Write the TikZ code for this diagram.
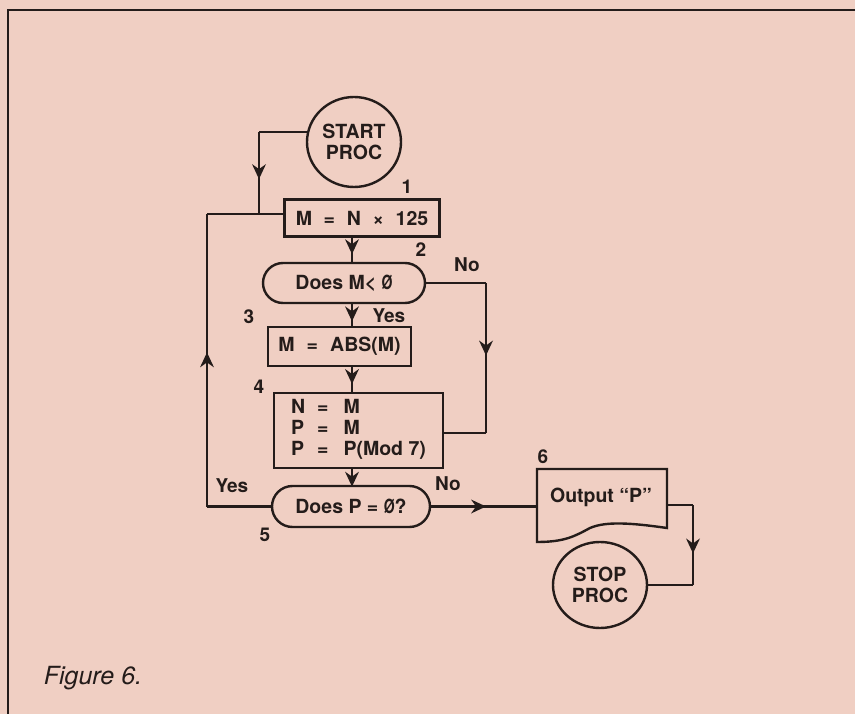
\documentclass[tikz,border=0pt]{standalone}
\usepackage{fontspec}
\usepackage{graphicx}
\setmainfont{TeX Gyre Heros}
\usetikzlibrary{arrows.meta,shapes.misc,shapes.geometric,decorations.markings,calc}
\definecolor{paper}{RGB}{240,207,195}
\definecolor{ink}{RGB}{36,28,26}
\newcommand{\slz}{\scalebox{0.72}[1]{Ø}}
\tikzset{
  txt/.style={font=\fontsize{19.5}{21}\selectfont\bfseries, text=ink},
  lbl/.style={font=\fontsize{19}{21}\selectfont\bfseries, text=ink, inner sep=0pt},
  boxnode/.style={txt, draw=ink, line width=2.4pt, rectangle, inner sep=0pt, align=center},
  decnode/.style={txt, draw=ink, line width=2.4pt, rounded rectangle, inner sep=0pt},
  termnode/.style={txt, draw=ink, line width=2.4pt, ellipse, inner sep=0pt, align=center},
  conn/.style={draw=ink, line width=2.2pt, line join=miter},
  marr/.style={decoration={markings, mark=at position #1 with {\fill[ink] (2pt,0pt) -- (-13pt,7pt) -- (-8pt,0pt) -- (-13pt,-7pt) -- cycle;}}, postaction={decorate}},
}
\begin{document}
\begin{tikzpicture}[x=1pt,y=-1pt]
\useasboundingbox (0,0) rectangle (855,714);
\fill[paper] (0,0) rectangle (855,714);
\draw[ink, line width=1.6pt] (8,714) -- (8,10) -- (855,10);

% nodes
\node[termnode, minimum width=94pt, minimum height=90pt] (start) at (354,142) {START\\PROC};
\node[boxnode, minimum width=155pt, minimum height=37pt] (b1) at (362,218)
  {M\hspace{0.6em}=\hspace{0.6em}N\hspace{0.6em}×\hspace{0.6em}125};
\node[decnode, minimum width=162pt, minimum height=40pt] (d1) at (344,283) {Does M< \slz};
\node[boxnode, minimum width=143pt, minimum height=39pt] (b3) at (339.5,346.5)
  {M\hspace{0.62em}=\hspace{0.62em}ABS(M)};
\node[boxnode, minimum width=169pt, minimum height=75pt] (b4) at (358.5,430.5)
  {\begin{tabular}{@{}l@{\hspace{12pt}}c@{\hspace{15pt}}l@{}}N&=&M\\P&=&M\\P&=&P(Mod 7)\end{tabular}};
\node[decnode, minimum width=158pt, minimum height=41pt] (d2) at (351,506.5) {Does P = \slz?};
\node[txt, minimum width=130pt, minimum height=60pt, inner sep=0pt] (out) at (602,499) {};
\node[txt] (outtxt) at (601,497) {Output “P”};
\node[termnode, minimum width=94pt, minimum height=86pt] (stop) at (600,585) {STOP\\PROC};

% output (document) shape
\draw[conn, line width=2.4pt] (537,469) -- (667,469) -- (667,528)
  .. controls (632,523) and (606,521) .. (590,528)
  .. controls (575,536) and (565,542) .. (537,542) -- cycle;

% labels
\node[lbl] (n1) at (407,187) {1};
\node[lbl] (n2) at (421,250) {2};
\node[lbl] (no1) at (467,265) {No};
\node[lbl] (yes1) at (389,316) {Yes};
\node[lbl] (n3) at (249,317) {3};
\node[lbl] (n4) at (259,387) {4};
\node[lbl] (yes2) at (232,486) {Yes};
\node[lbl] (n5) at (265,535) {5};
\node[lbl] (no2) at (448,484) {No};
\node[lbl] (n6) at (543,457) {6};
\node[font=\fontsize{25}{27}\selectfont\itshape, text=ink, inner sep=0pt] (cap) at (93,678) {Figure 6.};

% coordinates
\coordinate (J) at (259,214);
\coordinate (L) at (207,214);
\coordinate (R1) at (486,283);
\coordinate (R2) at (486,433);
\coordinate (oR) at (667,505);
\coordinate (S1) at (693,505);
\coordinate (S2) at (693,585);

% trunk
\draw[conn, marr=0.6] (b1.south -| 352,0) -- (d1.north -| 352,0);
\draw[conn, marr=0.7] (d1.south -| 352,0) -- (b3.north -| 352,0);
\draw[conn, marr=0.6] (b3.south -| 352,0) -- (b4.north -| 352,0);
\draw[conn, marr=0.99] (b4.south -| 352,0) -- (d2.north -| 352,0);

% No branch of d1
\draw[conn] (d1.east) -- (R1);
\draw[conn, marr=0.47] (R1) -- (R2);
\draw[conn] (R2) -- (R2 -| b4.east);

% start into loop
\draw[conn] (start.168) -- (start.168 -| J);
\draw[conn, marr=0.55] (start.168 -| J) -- (J);

% Yes loop of d2
\draw[conn] (d2.west) -- (d2.west -| L);
\draw[conn, marr=0.52] (d2.west -| L) -- (L);
\draw[conn] (L) -- (J) -- (J -| b1.west);

% No branch of d2
\draw[conn, marr=0.5] (d2.east) -- (d2.east -| out.west);

% output to stop
\draw[conn] (oR) -- (S1);
\draw[conn, marr=0.58] (S1) -- (S2);
\draw[conn] (S2) -- (stop.east);
\end{tikzpicture}
\end{document}
